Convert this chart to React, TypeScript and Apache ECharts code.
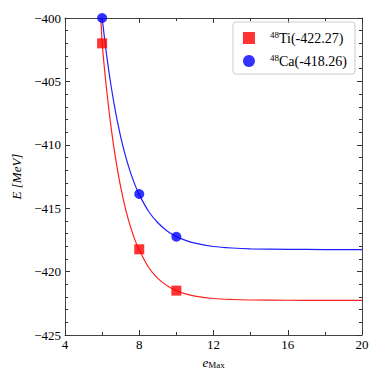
import React, { useEffect, useRef } from "react";
import * as echarts from "echarts";

const tiPoints: [number, number][] = [
  [6, -402.0],
  [8, -418.24],
  [10, -421.5],
];
const caPoints: [number, number][] = [
  [6, -400.0],
  [8, -413.88],
  [10, -417.25],
];
const curveX = [5.85, 5.95, 6, 6.25, 6.5, 6.75, 7, 7.25, 7.5, 7.75, 8, 8.5, 9, 9.5, 10, 10.5, 11, 12, 13, 14, 16, 18, 20];
const tiCurve = [-399.35, -400.6, -402.0, -405.76, -408.82, -411.31, -413.34, -415.0, -416.34, -417.44, -418.3, -419.66, -420.54, -421.12, -421.51, -421.76, -421.93, -422.12, -422.2, -422.24, -422.26, -422.27, -422.27];
const caCurve = [-398.0, -399.33, -400.0, -403.01, -405.52, -407.62, -409.37, -410.84, -412.06, -413.08, -413.93, -415.24, -416.15, -416.79, -417.24, -417.54, -417.76, -418.02, -418.14, -418.2, -418.24, -418.26, -418.26];
const legendNames = ["Ti", "Ca"];
const legendLabels: Record<string, string> = {
  Ti: "{sup|48}Ti(-422.27)",
  Ca: "{sup|48}Ca(-418.26)",
};

const FONT = "'Liberation Serif', 'DejaVu Serif', serif";
const fmtMinus = (v: number) => (v < 0 ? "\u2212" + Math.abs(v) : String(v));

export default function App() {
  const ref = useRef<HTMLDivElement>(null);
  useEffect(() => {
    if (!ref.current) return;
    const chart = echarts.init(ref.current, null, { renderer: "svg" });
    const axisLine = { show: true, onZero: false, lineStyle: { color: "#444", width: 1 } };
    const axisTick = { show: true, inside: true, length: 5, lineStyle: { color: "#333" } };
    const minor = (n: number) => ({ show: true, splitNumber: n, length: 3, lineStyle: { color: "#333" } });
    chart.setOption({
      animation: false,
      backgroundColor: "#fff",
      grid: { left: 65, top: 18, right: 20, bottom: 47 },
      legend: {
        data: legendNames,
        orient: "vertical",
        right: 27,
        top: 22,
        padding: [8, 8, 6, 10],
        itemGap: 8,
        itemWidth: 12,
        itemHeight: 12,
        borderColor: "#cccccc",
        borderWidth: 1,
        borderRadius: 3,
        formatter: (n: string) => legendLabels[n],
        textStyle: {
          fontFamily: FONT,
          fontSize: 14,
          color: "#000",
          padding: [0, 0, 0, 10],
          rich: {
            sup: { fontFamily: FONT, fontSize: 9, padding: [0, 0, 7, 0], color: "#000" },
          },
        },
      },
      xAxis: [
        {
          type: "value",
          min: 4,
          max: 20,
          interval: 4,
          minorTick: minor(2),
          axisLine,
          axisTick,
          splitLine: { show: false },
          axisLabel: { fontFamily: FONT, fontSize: 13, color: "#000", margin: 3 },
          name: "{i|e}{s|Max}",
          nameLocation: "middle",
          nameGap: 17,
          nameTextStyle: {
            rich: {
              i: { fontFamily: FONT, fontStyle: "italic", fontSize: 13, color: "#000" },
              s: { fontFamily: FONT, fontSize: 9, color: "#000", padding: [6, 0, 0, 0] },
            },
          },
        },
        {
          type: "value",
          position: "top",
          min: 4,
          max: 20,
          interval: 4,
          minorTick: minor(2),
          axisLine,
          axisTick,
          splitLine: { show: false },
          axisLabel: { show: false },
        },
      ],
      yAxis: [
        {
          type: "value",
          min: -425,
          max: -400,
          interval: 5,
          minorTick: minor(5),
          axisLine,
          axisTick,
          splitLine: { show: false },
          axisLabel: { fontFamily: FONT, fontSize: 13, color: "#000", margin: 4, formatter: fmtMinus },
          name: "E [MeV]",
          nameLocation: "middle",
          nameGap: 40,
          nameRotate: 90,
          nameTextStyle: { fontFamily: FONT, fontStyle: "italic", fontSize: 13, color: "#000" },
        },
        {
          type: "value",
          position: "right",
          min: -425,
          max: -400,
          interval: 5,
          minorTick: minor(5),
          axisLine,
          axisTick,
          splitLine: { show: false },
          axisLabel: { show: false },
        },
      ],
      series: [
        {
          type: "line",
          data: curveX.map((x, i) => [x, tiCurve[i]]),
          smooth: 0.3,
          showSymbol: false,
          lineStyle: { color: "#ff2020", width: 1.2 },
          clip: true,
          silent: true,
          z: 1,
        },
        {
          type: "line",
          data: curveX.map((x, i) => [x, caCurve[i]]),
          smooth: 0.3,
          showSymbol: false,
          lineStyle: { color: "#2020ff", width: 1.2 },
          clip: true,
          silent: true,
          z: 1,
        },
        {
          name: "Ti",
          type: "scatter",
          data: tiPoints,
          symbol: "rect",
          symbolSize: 10,
          itemStyle: { color: "#ff0000" },
          clip: false,
          z: 3,
        },
        {
          name: "Ca",
          type: "scatter",
          data: caPoints,
          symbol: "circle",
          symbolSize: 10,
          itemStyle: { color: "#0000ff" },
          clip: false,
          z: 3,
        },
      ],
    });
    return () => chart.dispose();
  }, []);
  return (
    <div
      ref={ref}
      style={{ position: "fixed", left: 0, top: 0, width: 382, height: 382 }}
    />
  );
}
